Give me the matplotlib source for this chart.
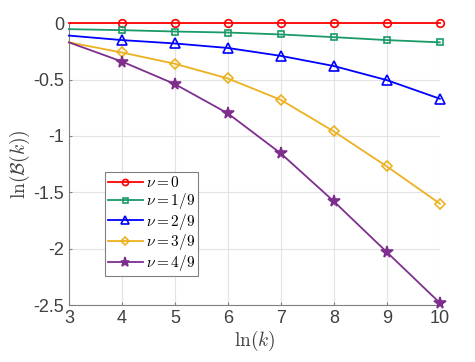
import matplotlib.pyplot as plt

plt.rcParams["mathtext.fontset"] = "cm"
plt.rcParams["font.family"] = ["Liberation Sans", "DejaVu Sans"]

# ----------------------------
# Dados
# ----------------------------
lnk = [3, 4, 5, 6, 7, 8, 9, 10]
nu0 = [0, 0, 0, 0, 0, 0, 0, 0]
nu1 = [-0.053, -0.062, -0.074, -0.083, -0.100, -0.124, -0.150, -0.170]
nu2 = [-0.11, -0.15, -0.18, -0.22, -0.29, -0.38, -0.505, -0.67]
nu3 = [-0.17, -0.26, -0.36, -0.49, -0.68, -0.96, -1.27, -1.60]
nu4 = [-0.17, -0.34, -0.54, -0.80, -1.155, -1.58, -2.03, -2.48]
labels = [r"$\nu=0$", r"$\nu=1/9$", r"$\nu=2/9$", r"$\nu=3/9$", r"$\nu=4/9$"]

series = [nu0, nu1, nu2, nu3, nu4]
colors = ["#FF0000", "#1A9A68", "#0000FF", "#EDB120", "#7E2F8E"]
markers = ["o", "s", "^", "D", "*"]
sizes = [5.5, 4.5, 6.5, 5, 8.5]
fills = ["none", "none", "none", "none", "#7E2F8E"]

# ----------------------------
# Figura
# ----------------------------
fig = plt.figure(figsize=(4.75, 3.62), dpi=100)
ax = fig.add_axes([0.145, 0.157, 0.781, 0.779])

for y, c, m, s, f, lab in zip(series, colors, markers, sizes, fills, labels):
    ax.plot(lnk, y, color=c, marker=m, markersize=s, markerfacecolor=f,
            markeredgewidth=1.2, linewidth=1.3, markevery=slice(1, None),
            label=lab, clip_on=False, zorder=3)

ax.set_xlim(3, 10)
ax.set_ylim(-2.5, 0)
ax.set_xticks(range(3, 11))
ax.set_yticks([-2.5, -2, -1.5, -1, -0.5, 0])
ax.set_yticklabels(["-2.5", "-2", "-1.5", "-1", "-0.5", "0"])
ax.grid(True, color="#E3E3E3", linewidth=0.8)
ax.set_axisbelow(True)
ax.tick_params(direction="in", labelsize=13, labelcolor="#404040",
               color="#808080", length=2)
for side in ["top", "right"]:
    ax.spines[side].set_visible(False)
for side in ["left", "bottom"]:
    ax.spines[side].set_color("#808080")

ax.set_xlabel(r"$\ln(k)$", fontsize=14, color="#404040", labelpad=1)
ax.set_ylabel(r"$\ln(\mathcal{B}(k))$", fontsize=14, color="#404040", labelpad=1)

leg = ax.legend(loc="upper left", bbox_to_anchor=(0.097, 0.472), fontsize=11,
                fancybox=False, edgecolor="#808080", framealpha=1,
                handlelength=2.3, handletextpad=0.2, labelspacing=0.05,
                borderpad=0.2, borderaxespad=0, markerscale=0.8)
leg.get_frame().set_linewidth(0.8)

fig.savefig("out.png", dpi=100)
